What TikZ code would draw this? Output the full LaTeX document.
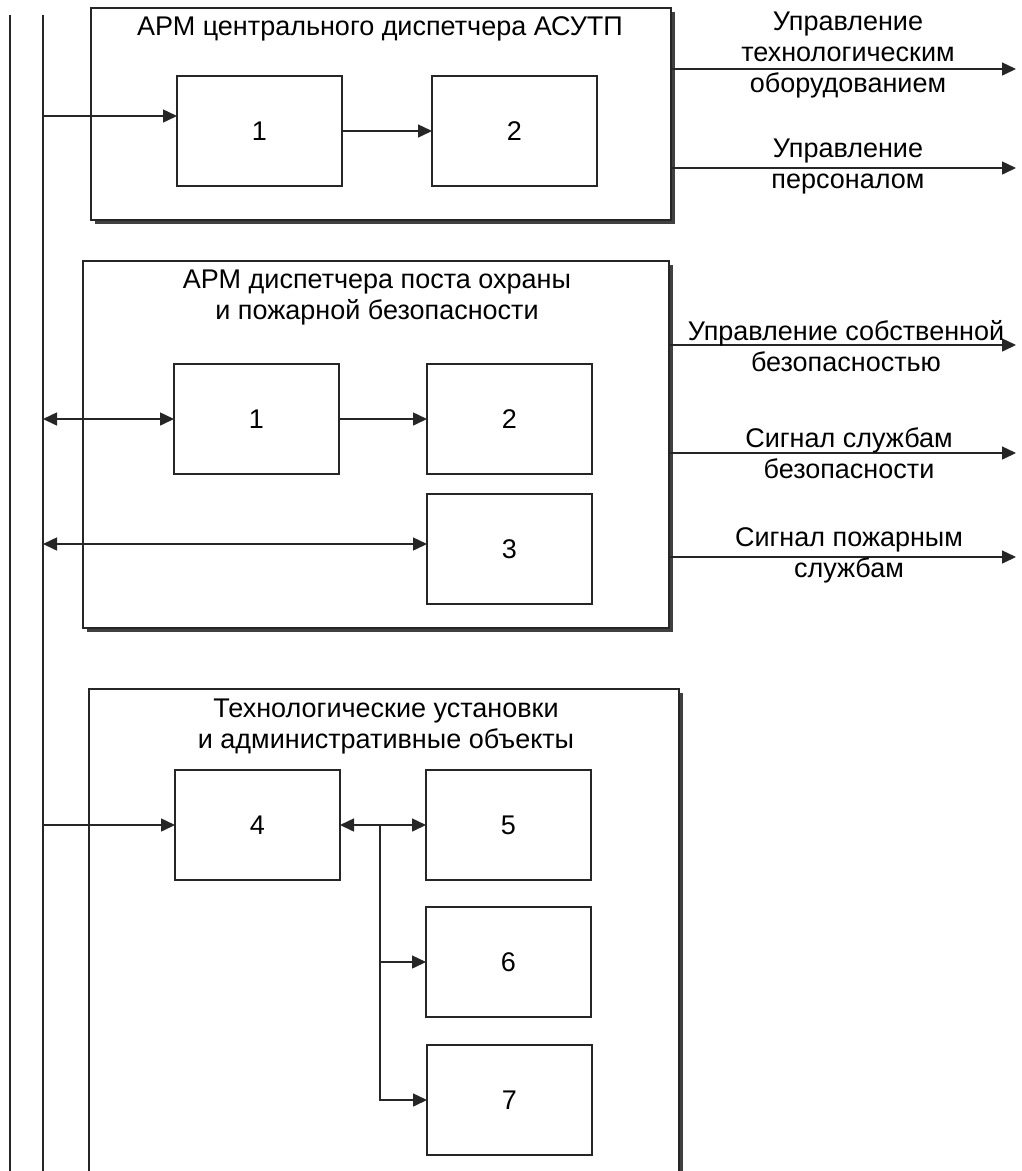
\documentclass[tikz,border=0pt]{standalone}
\usepackage{fontspec}
\setmainfont{Liberation Sans}
\usetikzlibrary{arrows.meta,shadows,calc}
\begin{document}
\begin{tikzpicture}[x=1pt,y=-1pt,
  wire/.style={draw=black!85, line width=1.5pt},
  arr/.style={wire, -{Triangle[length=14pt,width=13pt]}},
  darr/.style={wire, {Triangle[length=14pt,width=13pt]}-{Triangle[length=14pt,width=13pt]}},
  panel/.style={draw=black!85, line width=1.7pt, fill=white, anchor=north west,
    inner sep=0pt, outer sep=0pt,
    drop shadow={shadow xshift=4pt, shadow yshift=-4pt, fill=black!75, opacity=1}},
  unit/.style={draw=black!85, line width=1.6pt, fill=white, minimum width=165pt,
    minimum height=110pt, inner sep=0pt, outer sep=0pt,
    font=\fontsize{27}{31}\selectfont},
  txt/.style={font=\fontsize{27}{31}\selectfont, align=center, inner sep=0pt}]

\useasboundingbox (0,0) rectangle (1021,1171);
\clip (0,0) rectangle (1021,1171);
\fill[white] (0,0) rectangle (1021,1171);

% system buses on the left
\coordinate (outerTop) at (10,15);
\coordinate (outerEnd) at (10,1190);
\coordinate (busTop) at (43,15);
\coordinate (busEnd) at (43,1190);
\coordinate (bus) at (43,0);
\draw[wire] (outerTop) -- (outerEnd);
\draw[wire] (busTop) -- (busEnd);

% panels
\node[panel, minimum width=580pt, minimum height=212pt] (armA) at (91,8) {};
\node[panel, minimum width=586pt, minimum height=367pt] (armB) at (83,261) {};
\node[panel, minimum width=590pt, minimum height=520pt] (armC) at (89,689) {};

\node[txt] (titleA) at (380,29) {АРМ центрального диспетчера АСУТП};
\node[txt] (titleB) at (377,298) {АРМ диспетчера поста охраны\\и пожарной безопасности};
\node[txt] (titleC) at (386,727) {Технологические установки\\и административные объекты};

% functional units
\node[unit] (a1) at (259.5,131) {1};
\node[unit] (a2) at (514.5,131) {2};
\node[unit] (b1) at (256.5,419) {1};
\node[unit] (b2) at (509.5,419) {2};
\node[unit] (b3) at (509.5,549) {3};
\node[unit] (c4) at (257.5,825) {4};
\node[unit] (c5) at (508.5,825) {5};
\node[unit] (c6) at (508.5,962) {6};
\node[unit] (c7) at (509.5,1100) {7};

% links inside the central operator station
\coordinate (aIn) at ($(a1.west)+(0,-15)$);
\draw[arr] (bus |- aIn) -- (aIn);
\draw[arr] (a1.east) -- (a2.west);

% links inside the security post
\draw[darr] (bus |- b1.west) -- (b1.west);
\draw[arr] (b1.east) -- (b2.west);
\coordinate (bIn) at ($(b3.west)+(0,-5)$);
\draw[darr] (bus |- bIn) -- (bIn);

% links to plants and offices
\draw[arr] (bus |- c4.west) -- (c4.west);
\draw[darr] (c4.east) -- (c5.west);
\coordinate (fork) at ($(c4.east)!0.465!(c5.west)$);
\draw[arr] (fork |- c6.west) -- (c6.west);
\draw[arr] (fork) |- (c7.west);

% outgoing signals
\coordinate (tA1) at (1016,69);
\coordinate (tA2) at (1016,168);
\coordinate (tB1) at (1016,345);
\coordinate (tB2) at (1016,453);
\coordinate (tB3) at (1016,557);
\draw[arr] (armA.east |- tA1) -- (tA1);
\draw[arr] (armA.east |- tA2) -- (tA2);
\draw[arr] (armB.east |- tB1) -- (tB1);
\draw[arr] (armB.east |- tB2) -- (tB2);
\draw[arr] (armB.east |- tB3) -- (tB3);

\node[txt] (lA1) at (848,55) {Управление\\технологическим\\оборудованием};
\node[txt] (lA2) at (848,167) {Управление\\персоналом};
\node[txt] (lB1) at (846,346) {Управление собственной\\безопасностью};
\node[txt] (lB2) at (849,453) {Сигнал службам\\безопасности};
\node[txt] (lB3) at (849,555) {Сигнал пожарным\\службам};
\end{tikzpicture}
\end{document}
